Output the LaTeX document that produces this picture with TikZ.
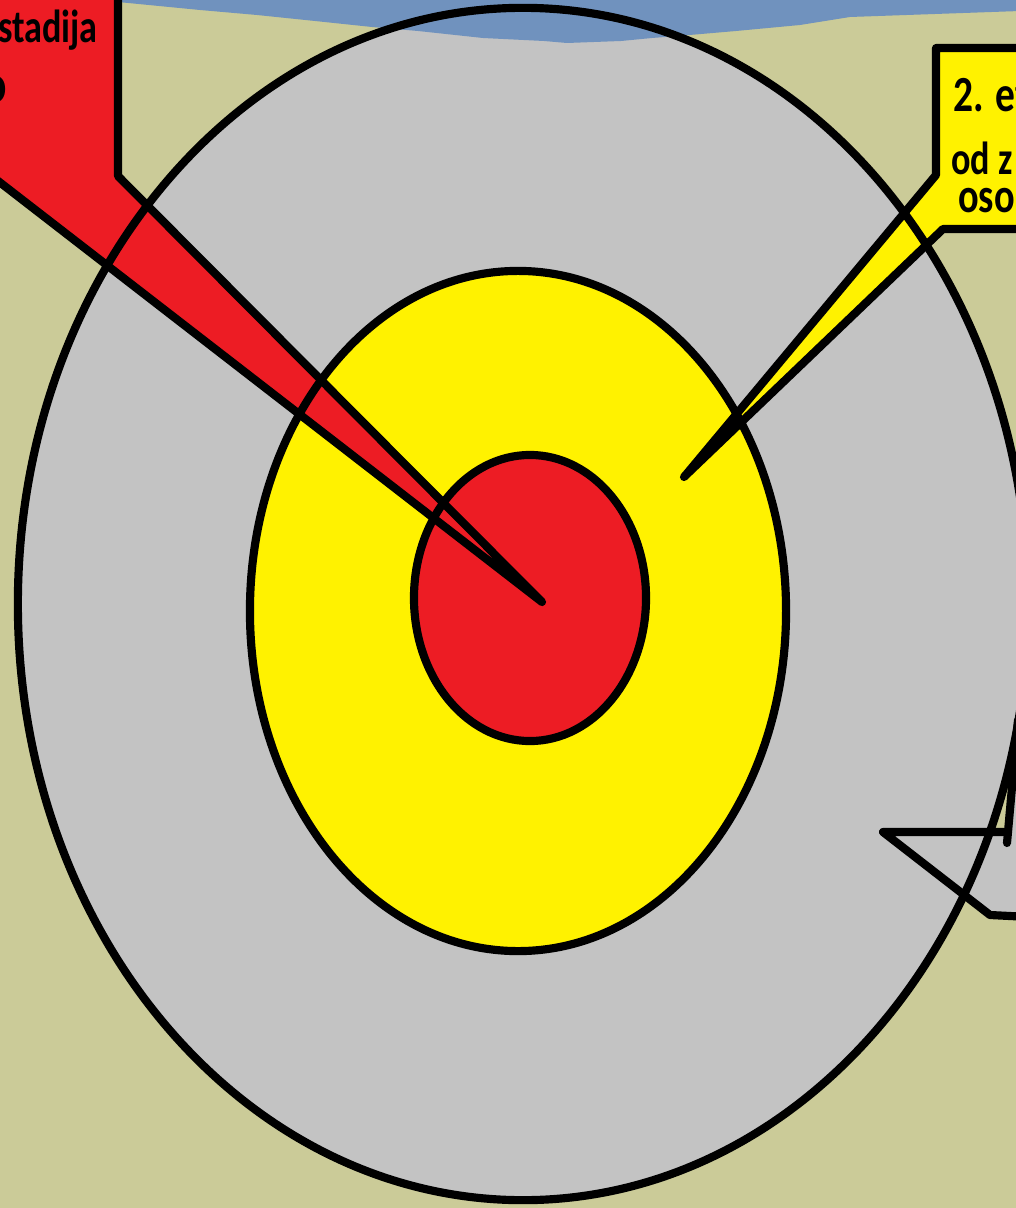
\documentclass[tikz,border=0pt]{standalone}
\usepackage{fontspec}
\setmainfont{Carlito}

\definecolor{khaki}{RGB}{203,203,152}
\definecolor{skyband}{RGB}{112,146,190}
\definecolor{ringgray}{RGB}{195,195,195}
\definecolor{ringyellow}{RGB}{255,242,0}
\definecolor{ringred}{RGB}{237,28,36}

\begin{document}
\begin{tikzpicture}[x=0.025cm, y=-0.025cm,
    ringline/.style={line width=5.8pt},
    calloutline/.style={line width=5.8pt, line join=round, line cap=round},
    labeltext/.style={inner sep=0pt, text=black, xscale=0.78}]

  % ---- frame (coordinates in pixels, y pointing down) ----
  \useasboundingbox (0,0) rectangle (1016,1208);
  \clip (0,0) rectangle (1016,1208);
  \fill[khaki] (0,0) rectangle (1016,1208);

  % ---- ring fills ----
  \fill[ringgray]   (523,604) ellipse [x radius=12.625cm, y radius=14.9cm];
  \fill[ringyellow] (518,611) ellipse [x radius=6.7cm, y radius=8.5cm];
  \fill[ringred]    (530,598) ellipse [x radius=2.9cm, y radius=3.575cm];

  % ---- sky band over the top of the outer ring ----
  \fill[skyband] (118,-5) -- (118,2) -- (200,10) -- (257,15) -- (315,21)
    -- (372,27) -- (418,31) -- (483,38) -- (544,41) -- (567,43) -- (621,41)
    -- (652,38) -- (678,36) -- (736,31) -- (800,25) -- (850,17) -- (1020,11)
    -- (1020,-5) -- cycle;

  % ---- callout fills ----
  \fill[ringred] (-20,-20) -- (118,-20) -- (118,176) -- (542,602)
    -- (-20,167) -- cycle;
  \fill[ringyellow] (1030,48) -- (936,48) -- (936,175) -- (684,477)
    -- (943,229) -- (1030,229) -- cycle;
  \fill[ringgray] (1018,720) -- (1008,832) -- (883,832) -- (990,915)
    -- (1030,917) -- (1030,720) -- cycle;

  % ---- ring outlines ----
  \draw[ringline] (523,604) ellipse [x radius=12.625cm, y radius=14.9cm];
  \draw[ringline] (518,611) ellipse [x radius=6.7cm, y radius=8.5cm];
  \draw[ringline] (530,598) ellipse [x radius=2.9cm, y radius=3.575cm];

  % ---- callout outlines ----
  \draw[calloutline] (118,-10) -- (118,176) -- (542,602) -- (-20,167);
  \draw[calloutline] (1030,48) -- (936,48) -- (936,175) -- (684,477)
    -- (943,229) -- (1030,229);
  \draw[calloutline] (1018,720) -- (1007,843);
  \draw[calloutline] (1008,832) -- (883,832) -- (990,915) -- (1030,917);

  % ---- callout texts (cut by the frame) ----
  \node[labeltext, anchor=base east, font=\bfseries\fontsize{33}{36}\selectfont]
    (stadija) at (98,43) {stadija};
  \node[labeltext, anchor=base east, font=\bfseries\fontsize{38}{40}\selectfont]
    (stadijarest) at (7,103) {o};
  \node[labeltext, anchor=base west, font=\bfseries\fontsize{36}{38}\selectfont]
    (etapa) at (953,112) {2. et};
  \node[labeltext, anchor=base west, font=\bfseries\fontsize{33}{35}\selectfont]
    (odz) at (951,175) {od z};
  \node[labeltext, anchor=base west, font=\bfseries\fontsize{35}{37}\selectfont]
    (osob) at (958,213) {osob};

\end{tikzpicture}
\end{document}
